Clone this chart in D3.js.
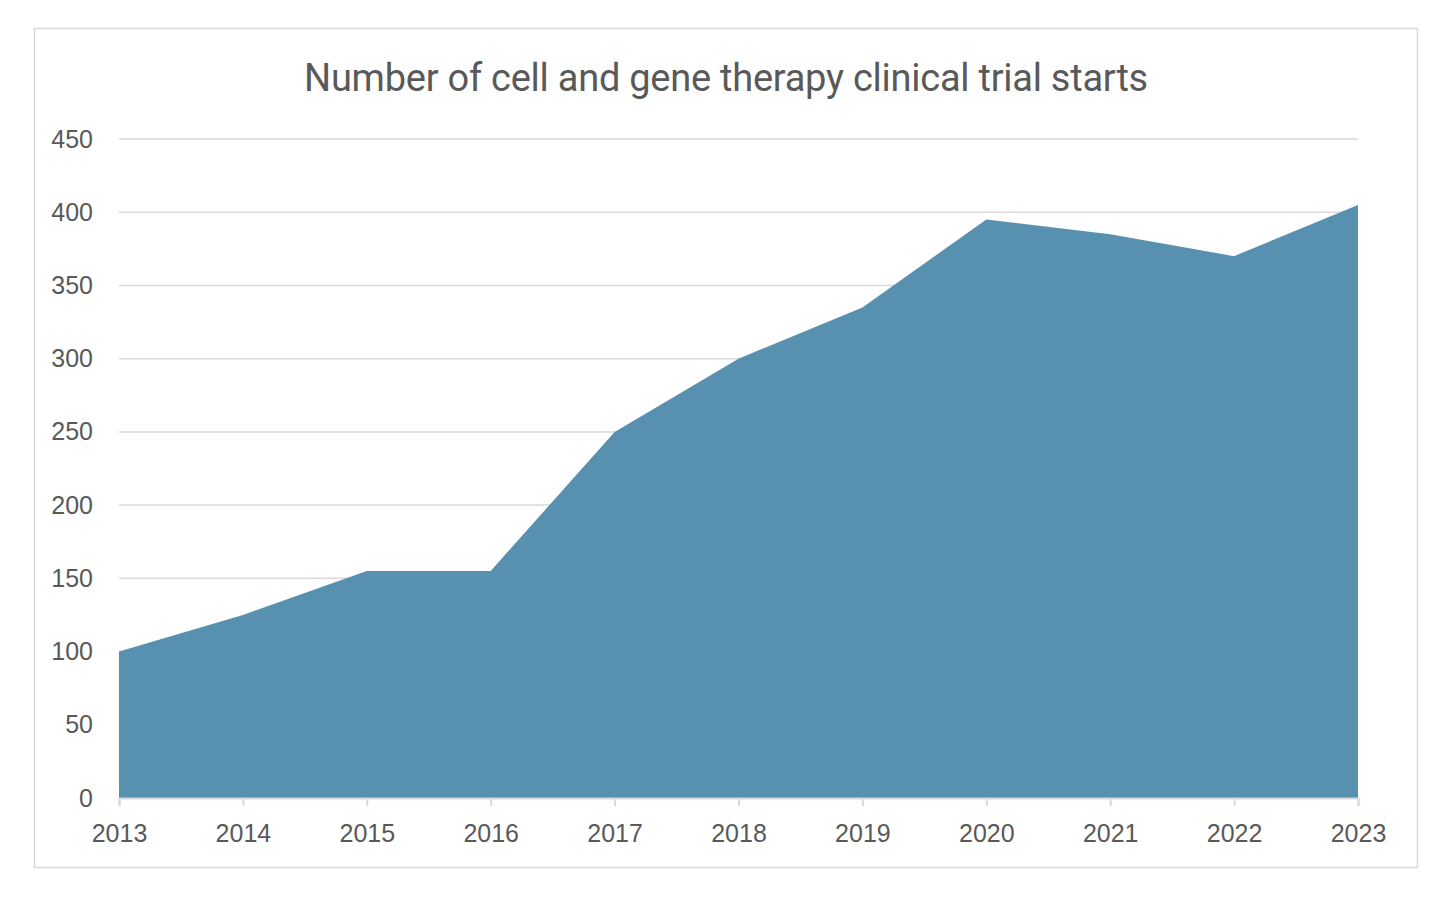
<!DOCTYPE html>
<html><head><meta charset="utf-8">
<script src="https://cdn.jsdelivr.net/npm/d3@7"></script>
<style>body{margin:0;background:#fff}svg{display:block}</style>
</head><body>
<svg id="c" width="1456" height="900"></svg>
<script>
const years = ["2013","2014","2015","2016","2017","2018","2019","2020","2021","2022","2023"];
const starts = [100,125,155,155,250,300,335,395,385,370,405];
const yTicks = [0,50,100,150,200,250,300,350,400,450];
const title = "Number of cell and gene therapy clinical trial starts";

const svg = d3.select("#c");
svg.append("rect").attr("x",34.5).attr("y",28.5).attr("width",1383).attr("height",839)
  .attr("fill","#fff").attr("stroke","#d9d9d9").attr("stroke-width",1.5);

const x = d3.scalePoint().domain(years).range([119,1358]);
const y = d3.scaleLinear().domain([0,450]).range([798,139]);

svg.append("g").selectAll("line").data(yTicks.filter(d=>d>0)).join("line")
  .attr("x1",119).attr("x2",1358).attr("y1",d=>y(d)).attr("y2",d=>y(d))
  .attr("stroke","#d9d9d9").attr("stroke-width",1.5);

const area = d3.area().x((d,i)=>x(years[i])).y0(y(0)).y1(d=>y(d));
svg.append("path").datum(starts).attr("d",area).attr("fill","#5891b0");

const labelFont = "'Liberation Sans', Arial, sans-serif";
// x axis
const xa = svg.append("g").attr("transform",`translate(0,${y(0)})`).call(d3.axisBottom(x).tickSize(8));
xa.select(".domain").attr("stroke","#d9d9d9").attr("stroke-width",2);
xa.selectAll(".tick line").attr("stroke","#d9d9d9").attr("stroke-width",2);
xa.selectAll("text").attr("y",44).attr("dy",null).attr("fill","#595959")
  .style("font-family",labelFont).style("font-size","25px");

// y axis labels
const ya = svg.append("g").attr("transform","translate(119,0)").call(d3.axisLeft(y).tickValues(yTicks).tickSize(0).tickPadding(26));
ya.select(".domain").remove();
ya.selectAll("text").attr("fill","#595959").style("font-family",labelFont).style("font-size","25px");

svg.append("text").attr("x",726).attr("y",91).attr("text-anchor","middle")
  .attr("fill","#595959").style("font-family","Roboto,'Open Sans',sans-serif")
  .style("font-size","38px").style("letter-spacing","-0.25px").text(title);
</script>
</body></html>
